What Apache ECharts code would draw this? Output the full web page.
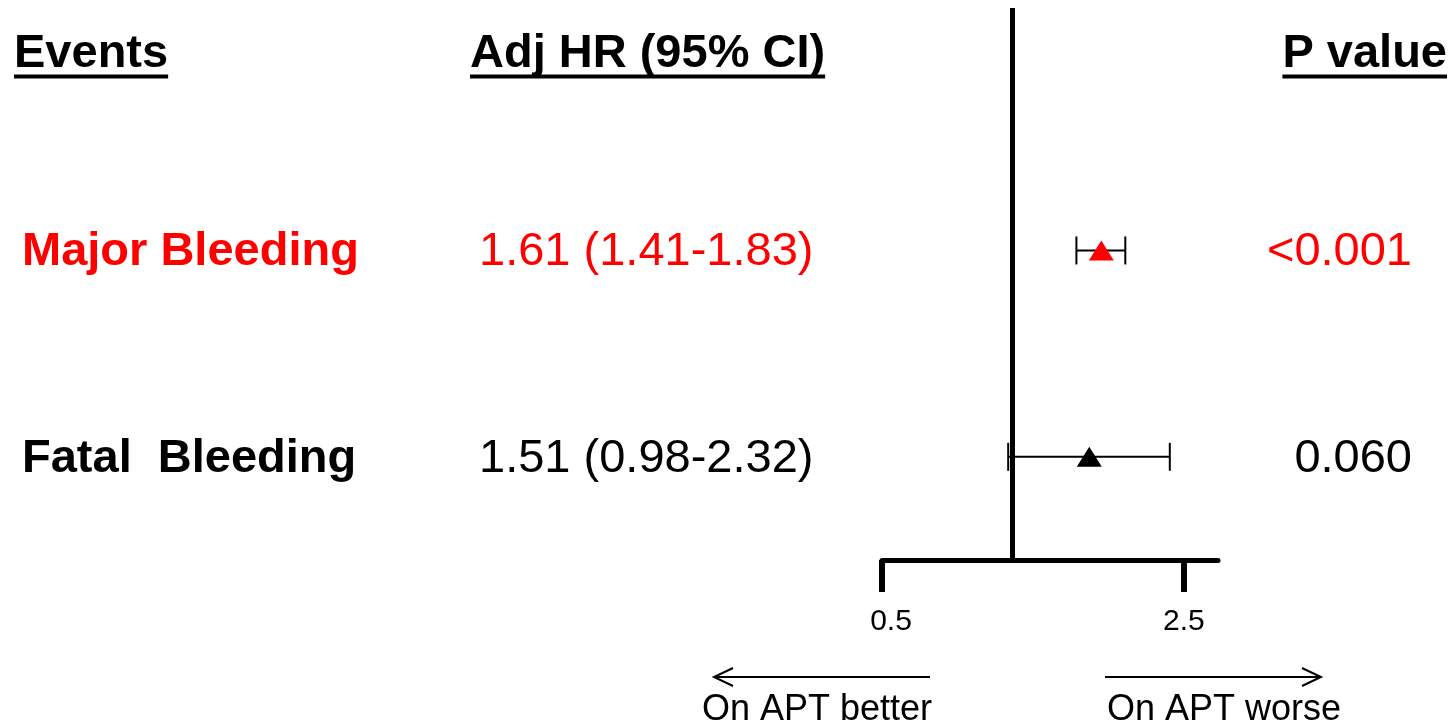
<!DOCTYPE html>
<html>
<head>
<meta charset="utf-8">
<script src="https://cdn.jsdelivr.net/npm/echarts@6/dist/echarts.min.js"></script>
<style>
  html, body { margin: 0; padding: 0; background: #ffffff; }
  #chart { width: 1452px; height: 727px; }
</style>
</head>
<body>
<div id="chart"></div>
<script>
// Forest plot: adjusted hazard ratios for bleeding events
const events = ['Major Bleeding', 'Fatal  Bleeding'];
const hazardRatios = [1.61, 1.51];
const ciLower = [1.41, 0.98];
const ciUpper = [1.83, 2.32];
const pValues = ['<0.001', '0.060'];
const rowColors = ['#ff0000', '#000000'];
const xTicks = [0.5, 2.5];
const xRange = [0.5, 3];
const headers = ['Events', 'Adj HR (95% CI)', 'P value'];
const directionLabels = ['On APT better', 'On APT worse'];

const FONT = '"Liberation Sans", Arial, Helvetica, sans-serif';
const n = events.length;
// first event on top, one empty slot between rows
const rowPos = events.map((_, i) => 1 + 2 * (n - 1 - i));

const chart = echarts.init(document.getElementById('chart'), null, { renderer: 'canvas' });

const fmt = v => v.toFixed(2);

chart.setOption({
  animation: false,
  backgroundColor: '#ffffff',
  grid: { left: 882, right: 234, top: 8, bottom: 167 },
  xAxis: {
    type: 'log',
    logBase: 10,
    min: xRange[0],
    max: xRange[1],
    axisLine: { show: true, lineStyle: { color: '#000', width: 5 } },
    axisTick: {
      show: true, inside: false, length: 32,
      customValues: xTicks,
      lineStyle: { color: '#000', width: 6 }
    },
    axisLabel: {
      show: true,
      customValues: xTicks,
      fontSize: 30,
      fontFamily: FONT,
      color: '#000',
      margin: 47,
      formatter: v => {
        const num = Number(Number(v).toPrecision(3));
        // the low-end label sits a little right of its tick
        return num < 1 ? `{low|${num}}` : String(num);
      },
      rich: {
        low: { fontSize: 30, fontFamily: FONT, color: '#000', padding: [0, 0, 0, 18] }
      }
    },
    splitLine: { show: false },
    minorTick: { show: false }
  },
  yAxis: {
    type: 'value',
    min: 0,
    max: 5.35,
    show: false
  },
  series: [
    {
      name: 'CI',
      type: 'custom',
      data: events.map((_, i) => [rowPos[i], ciLower[i], ciUpper[i]]),
      encode: { x: [1, 2], y: 0 },
      z: 3,
      renderItem: (params, api) => {
        const y = api.value(0);
        const a = api.coord([api.value(1), y]);
        const b = api.coord([api.value(2), y]);
        const cap = 14;
        const style = { stroke: '#000', lineWidth: 2, fill: null };
        return {
          type: 'group',
          children: [
            { type: 'line', shape: { x1: a[0], y1: a[1], x2: b[0], y2: b[1] }, style },
            { type: 'line', shape: { x1: a[0], y1: a[1] - cap, x2: a[0], y2: a[1] + cap }, style },
            { type: 'line', shape: { x1: b[0], y1: b[1] - cap, x2: b[0], y2: b[1] + cap }, style }
          ]
        };
      }
    },
    {
      name: 'HR',
      type: 'scatter',
      symbol: 'triangle',
      symbolSize: [25, 20],
      z: 4,
      data: events.map((_, i) => ({
        value: [hazardRatios[i], rowPos[i]],
        itemStyle: { color: rowColors[i], opacity: 1 }
      })),
      markLine: {
        silent: true,
        symbol: ['none', 'none'],
        label: { show: false },
        lineStyle: { color: '#000', width: 5, type: 'solid' },
        emphasis: { disabled: true },
        data: [{ xAxis: 1 }]
      }
    }
  ]
});

// Text columns and annotations, positioned on the plot's row scale
const ctx = document.createElement('canvas').getContext('2d');
function textWidth(text, weight, size) {
  ctx.font = `${weight} ${size}px ${FONT}`;
  return ctx.measureText(text).width;
}

const graphics = [];
const BIG = 47;

// column headers with underline
const headerSpecs = [
  { text: headers[0], x: 14, align: 'left' },
  { text: headers[1], x: 470, align: 'left' },
  { text: headers[2], x: 1447, align: 'right' }
];
headerSpecs.forEach(h => {
  const w = textWidth(h.text, 'bold', BIG);
  const x0 = h.align === 'left' ? h.x : h.x - w;
  graphics.push({
    type: 'text', x: h.x, y: 54,
    style: { text: h.text, fill: '#000', font: `bold ${BIG}px ${FONT}`, align: h.align, verticalAlign: 'middle' }
  });
  graphics.push({
    type: 'line', shape: { x1: x0, y1: 76.5, x2: x0 + w, y2: 76.5 },
    style: { stroke: '#000', lineWidth: 4 }
  });
});

// one text row per event
events.forEach((ev, i) => {
  const py = chart.convertToPixel({ gridIndex: 0 }, [1, rowPos[i]])[1] + 2;
  const color = rowColors[i];
  graphics.push({
    type: 'text', x: 22, y: py,
    style: { text: ev, fill: color, font: `bold ${BIG}px ${FONT}`, align: 'left', verticalAlign: 'middle' }
  });
  graphics.push({
    type: 'text', x: 479, y: py,
    style: {
      text: `${fmt(hazardRatios[i])} (${fmt(ciLower[i])}-${fmt(ciUpper[i])})`,
      fill: color, font: `${BIG}px ${FONT}`, align: 'left', verticalAlign: 'middle'
    }
  });
  graphics.push({
    type: 'text', x: 1412, y: py,
    style: { text: pValues[i], fill: color, font: `${BIG}px ${FONT}`, align: 'right', verticalAlign: 'middle' }
  });
});

// direction arrows under the axis
const arrowStyle = { stroke: '#000', lineWidth: 2, fill: null };
graphics.push(
  { type: 'line', shape: { x1: 930, y1: 677, x2: 714, y2: 677 }, style: arrowStyle },
  { type: 'polyline', shape: { points: [[733, 668], [714, 677], [733, 686]] }, style: arrowStyle },
  { type: 'line', shape: { x1: 1105, y1: 677, x2: 1321, y2: 677 }, style: arrowStyle },
  { type: 'polyline', shape: { points: [[1302, 668], [1321, 677], [1302, 686]] }, style: arrowStyle },
  {
    type: 'text', x: 702, y: 710,
    style: { text: directionLabels[0], fill: '#000', font: `36px ${FONT}`, align: 'left', verticalAlign: 'middle' }
  },
  {
    type: 'text', x: 1107, y: 710,
    style: { text: directionLabels[1], fill: '#000', font: `36px ${FONT}`, align: 'left', verticalAlign: 'middle' }
  }
);

chart.setOption({ graphic: graphics });
</script>
</body>
</html>
